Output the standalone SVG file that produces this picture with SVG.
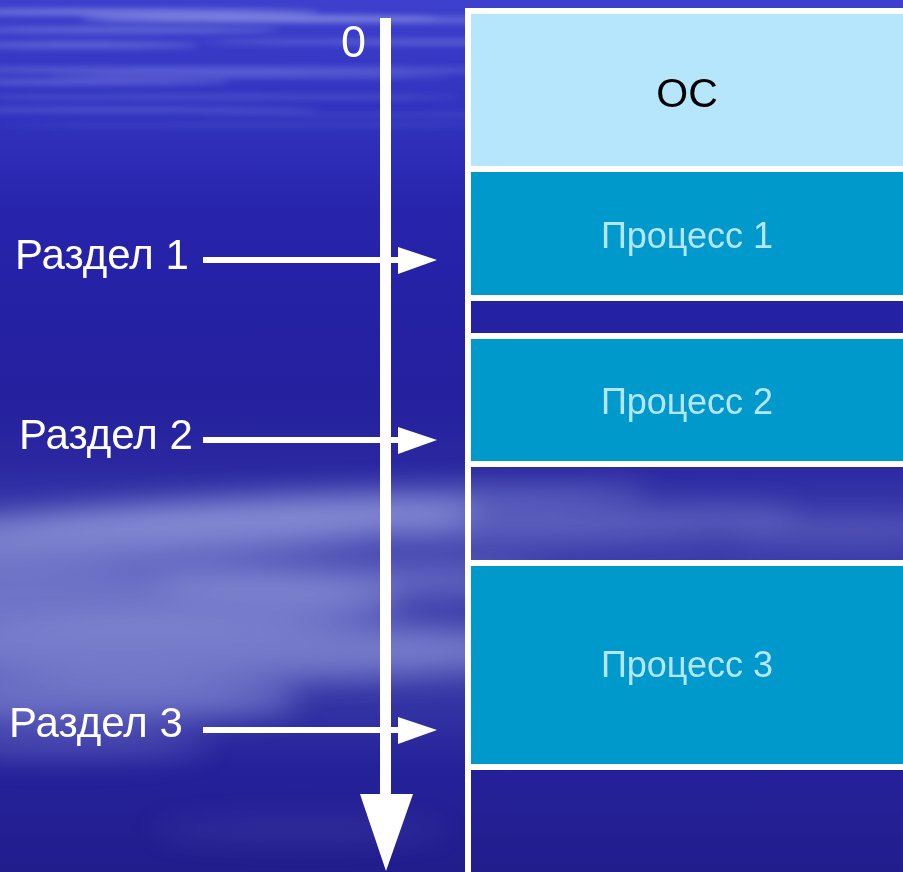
<svg xmlns="http://www.w3.org/2000/svg" width="903" height="872" viewBox="0 0 903 872">
  <defs>
    <linearGradient id="bg" x1="0" y1="0" x2="0" y2="1">
      <stop offset="0" stop-color="#3d40cc"/>
      <stop offset="0.12" stop-color="#3234c0"/>
      <stop offset="0.25" stop-color="#2723ab"/>
      <stop offset="0.45" stop-color="#24209e"/>
      <stop offset="0.53" stop-color="#2a27a0"/>
      <stop offset="0.6" stop-color="#3c3dab"/>
      <stop offset="0.78" stop-color="#3a3ba8"/>
      <stop offset="0.88" stop-color="#25219a"/>
      <stop offset="1" stop-color="#221d8c"/>
    </linearGradient>
    <filter id="blur" x="-20%" y="-50%" width="140%" height="200%">
      <feGaussianBlur stdDeviation="14"/>
    </filter>
    <filter id="blurS" x="-20%" y="-200%" width="140%" height="500%">
      <feGaussianBlur stdDeviation="3"/>
    </filter>
    <style>
      .lbl { font-family: "Liberation Sans", Arial, sans-serif; font-size: 42px; fill: #ffffff; }
      .proc { fill: #0099cc; stroke: #ffffff; stroke-width: 6; }
      .os { fill: #b5e6fc; stroke: #ffffff; stroke-width: 6; }
      .gap { fill: none; stroke: #ffffff; stroke-width: 6; }
      .ptxt { font-family: "Liberation Sans", Arial, sans-serif; font-size: 36px; fill: #b5e6f8; text-anchor: middle; }
      .ostxt { font-family: "Liberation Sans", Arial, sans-serif; font-size: 41px; fill: #000000; text-anchor: middle; }
      .white { fill: #ffffff; }
    </style>
  </defs>

  <!-- background -->
  <rect x="0" y="0" width="903" height="872" fill="url(#bg)"/>
  <g filter="url(#blurS)" fill="#b8c0f4">
    <ellipse cx="120" cy="12" rx="200" ry="3" opacity="0.5"/>
    <ellipse cx="260" cy="18" rx="180" ry="3" opacity="0.45"/>
    <ellipse cx="500" cy="20" rx="420" ry="3" opacity="0.35"/>
    <ellipse cx="120" cy="30" rx="160" ry="3" opacity="0.35"/>
    <ellipse cx="80" cy="45" rx="120" ry="3" opacity="0.35"/>
    <ellipse cx="600" cy="42" rx="400" ry="3" opacity="0.3"/>
    <ellipse cx="200" cy="70" rx="300" ry="3" opacity="0.3"/>
    <ellipse cx="250" cy="76" rx="200" ry="2" opacity="0.3"/>
    <ellipse cx="80" cy="82" rx="150" ry="3" opacity="0.3"/>
    <ellipse cx="200" cy="97" rx="260" ry="2" opacity="0.25"/>
    <ellipse cx="120" cy="110" rx="200" ry="3" opacity="0.22"/>
    <ellipse cx="250" cy="125" rx="250" ry="2" opacity="0.15"/>
    <ellipse cx="500" cy="115" rx="300" ry="2" opacity="0.15"/>
  </g>
  <g filter="url(#blur)" fill="#b0b8ec">
    <ellipse cx="150" cy="535" rx="330" ry="28" opacity="0.5" transform="rotate(-4 150 535)"/>
    <ellipse cx="300" cy="510" rx="350" ry="16" opacity="0.35" transform="rotate(-3 300 510)"/>
    <ellipse cx="100" cy="600" rx="300" ry="30" opacity="0.45"/>
    <ellipse cx="200" cy="650" rx="350" ry="30" opacity="0.5"/>
    <ellipse cx="80" cy="700" rx="220" ry="22" opacity="0.45"/>
    <ellipse cx="60" cy="745" rx="150" ry="14" opacity="0.25"/>
    <ellipse cx="350" cy="580" rx="200" ry="18" opacity="0.35"/>
    <ellipse cx="600" cy="525" rx="200" ry="14" opacity="0.3" transform="rotate(-3 600 525)"/>
    <ellipse cx="850" cy="530" rx="120" ry="10" opacity="0.25"/>
    <ellipse cx="300" cy="830" rx="150" ry="12" opacity="0.1"/>
  </g>

  <!-- memory column -->
  <g id="os">
    <rect class="os" x="468" y="11" width="500" height="158"/>
    <text class="ostxt" x="687" y="107">ОС</text>
  </g>
  <g id="proc1">
    <rect class="proc" x="468" y="169" width="500" height="129"/>
    <text class="ptxt" x="687" y="248">Процесс 1</text>
  </g>
  <g id="free1">
    <rect class="gap" x="468" y="298" width="500" height="38"/>
  </g>
  <g id="proc2">
    <rect class="proc" x="468" y="336" width="500" height="128"/>
    <text class="ptxt" x="687" y="414">Процесс 2</text>
  </g>
  <g id="free2">
    <rect class="gap" x="468" y="464" width="500" height="99"/>
  </g>
  <g id="proc3">
    <rect class="proc" x="468" y="563" width="500" height="204"/>
    <text class="ptxt" x="687" y="677">Процесс 3</text>
  </g>
  <g id="free3">
    <rect class="gap" x="468" y="767" width="500" height="108"/>
  </g>

  <!-- labels -->
  <g id="zero"><text class="lbl" x="341" y="57" style="font-size:45px">0</text></g>
  <g id="part1"><text class="lbl" x="15" y="269">Раздел 1</text></g>
  <g id="part2"><text class="lbl" x="19" y="449">Раздел 2</text></g>
  <g id="part3"><text class="lbl" x="9" y="737">Раздел 3</text></g>

  <!-- connectors -->
  <g id="connectors">
    <rect class="white" x="203" y="257" width="196" height="6"/>
    <polygon class="white" points="398,247 437,260 398,274"/>
    <rect class="white" x="203" y="437" width="196" height="6"/>
    <polygon class="white" points="398,427 437,440 398,454"/>
    <rect class="white" x="203" y="727" width="196" height="6"/>
    <polygon class="white" points="398,717 437,730 398,744"/>
    <rect class="white" x="380" y="18" width="11" height="777"/>
    <polygon class="white" points="360,794 413,794 386,871"/>
  </g>
</svg>
